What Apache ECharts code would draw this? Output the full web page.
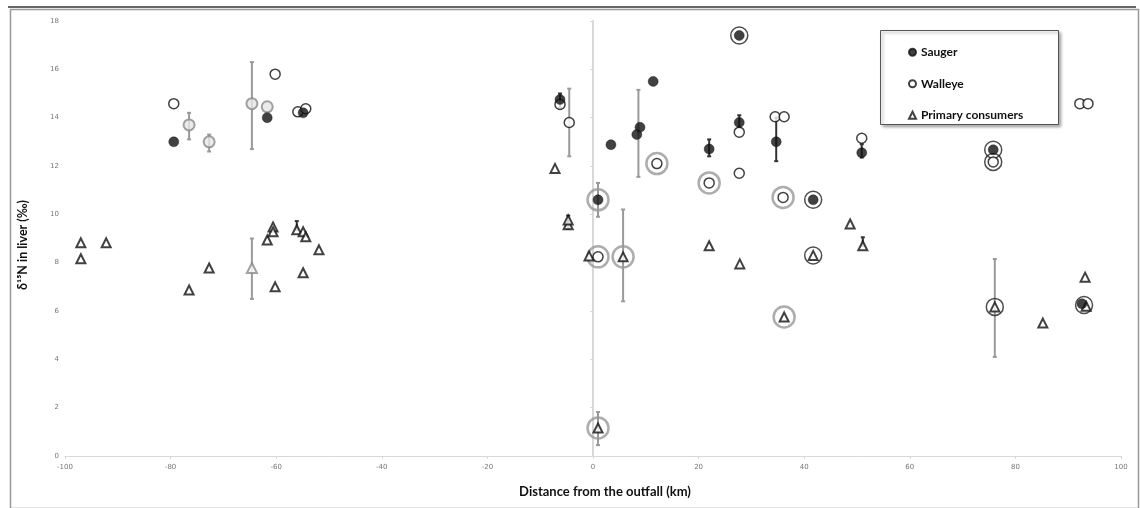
<!DOCTYPE html>
<html>
<head>
<meta charset="utf-8">
<script src="https://cdn.jsdelivr.net/npm/echarts@6/dist/echarts.min.js"></script>
<style>
  html, body { margin: 0; padding: 0; background: #fff; }
  #main { width: 1140px; height: 508px; }
</style>
</head>
<body>
<div id="main"></div>
<script>
// tick labels
const xTicks = [-100, -80, -60, -40, -20, 0, 20, 40, 60, 80, 100];
const yTicks = [0, 2, 4, 6, 8, 10, 12, 14, 16, 18];

// filled circles
const sauger = [
  [-79.4, 13.0], [-61.7, 14.0], [-54.9, 14.2],
  [-6.25, 14.75], [0.95, 10.6], [3.4, 12.88], [8.3, 13.3], [8.9, 13.6],
  [11.4, 15.5], [22.0, 12.7], [27.7, 13.8], [27.7, 17.4], [34.7, 13.0],
  [41.7, 10.6], [50.9, 12.55], [75.8, 12.67], [92.6, 6.3]
];
// open circles
const walleye = [
  [-79.4, 14.58], [-60.2, 15.8], [-55.9, 14.24], [-54.4, 14.37],
  [-6.25, 14.55], [-4.5, 13.8], [0.95, 8.24], [12.1, 12.1], [22.0, 11.3],
  [27.7, 13.4], [27.7, 11.7], [34.5, 14.04], [36.2, 14.04], [36.0, 10.7],
  [50.9, 13.15], [75.8, 12.17], [92.2, 14.58], [93.75, 14.58]
];
// triangles
const primary = [
  [-97.0, 8.82], [-97.0, 8.16], [-92.2, 8.82], [-76.5, 6.87], [-72.7, 7.78],
  [-61.7, 8.94], [-60.6, 9.48], [-60.6, 9.28], [-60.2, 7.0], [-56.1, 9.36],
  [-54.9, 9.28], [-54.4, 9.07], [-54.9, 7.58], [-51.9, 8.53],
  [-7.2, 11.9], [-4.7, 9.57], [-4.7, 9.77], [-0.75, 8.28], [5.7, 8.24],
  [0.95, 1.16], [22.0, 8.7], [27.8, 7.95], [36.2, 5.75], [41.7, 8.3],
  [48.7, 9.6], [51.1, 8.7], [76.1, 6.17], [85.2, 5.5], [93.2, 7.4], [93.4, 6.2]
];
// grey mean markers (upstream)
const greyMeanCircle = [[-76.5, 13.7], [-72.7, 13.0], [-64.6, 14.58], [-61.7, 14.45]];
const greyMeanTriangle = [[-64.6, 7.78]];

// rings round some points
const greyRings = [
  [0.95, 10.6], [0.95, 8.24], [5.7, 8.24], [12.1, 12.1], [0.95, 1.16],
  [22.0, 11.3], [36.0, 10.7], [36.2, 5.75]
];
const blackRings = [
  [27.7, 17.4], [41.7, 10.6], [41.7, 8.3], [75.8, 12.67], [75.8, 12.17],
  [76.1, 6.17], [93.0, 6.25]
];

// error bars [x, low, high]
const greyErrors = [
  [-76.5, 13.1, 14.2], [-72.7, 12.6, 13.3], [-64.6, 12.7, 16.3], [-64.6, 6.5, 9.0],
  [-4.5, 12.4, 15.2], [0.95, 9.9, 11.3], [5.7, 6.4, 10.2], [8.6, 11.55, 15.15],
  [0.95, 0.45, 1.82], [76.1, 4.1, 8.15]
];
const blackErrors = [
  [-6.25, 14.4, 15.0], [-4.7, 9.4, 9.95], [-56.1, 9.36, 9.72], [22.0, 12.4, 13.1],
  [27.7, 13.6, 14.1], [34.7, 12.2, 14.0], [50.9, 12.35, 12.9], [51.1, 8.7, 9.05]
];

const chart = echarts.init(document.getElementById('main'));

function errRender(color) {
  return function (params, api) {
    const top = api.coord([api.value(0), api.value(2)]);
    const bot = api.coord([api.value(0), api.value(1)]);
    const style = { stroke: color, lineWidth: 2 };
    return {
      type: 'group',
      children: [
        { type: 'line', shape: { x1: top[0], y1: top[1], x2: bot[0], y2: bot[1] }, style: style },
        { type: 'line', shape: { x1: top[0] - 2, y1: top[1], x2: top[0] + 2, y2: top[1] }, style: style },
        { type: 'line', shape: { x1: bot[0] - 2, y1: bot[1], x2: bot[0] + 2, y2: bot[1] }, style: style }
      ]
    };
  };
}

const tickFont = { fontSize: 7, color: '#777', fontFamily: 'DejaVu Sans' };

const option = {
  animation: false,
  backgroundColor: '#fff',
  grid: { left: 65, right: 19, top: 21, bottom: 52 },
  xAxis: {
    type: 'value', min: -100, max: 100, interval: 20,
    axisLine: { lineStyle: { color: '#d8d8d8', width: 1 } },
    axisTick: { show: true, length: 3, lineStyle: { color: '#d8d8d8' } },
    splitLine: { show: false },
    axisLabel: Object.assign({ margin: 8, formatter: v => xTicks.includes(v) ? String(v) : '' }, tickFont)
  },
  yAxis: {
    type: 'value', min: 0, max: 18, interval: 2,
    axisLine: { show: true, onZero: true, lineStyle: { color: '#d8d8d8', width: 2 } },
    axisTick: { show: true, length: 3, lineStyle: { color: '#d8d8d8' } },
    splitLine: { show: false },
    axisLabel: Object.assign({ margin: 6, formatter: v => yTicks.includes(v) ? String(v) : '' }, tickFont)
  },
  legend: {
    orient: 'vertical', left: 903, top: 41, itemGap: 19,
    itemWidth: 7, itemHeight: 7,
    data: ['Sauger', 'Walleye', 'Primary consumers'],
    textStyle: { fontFamily: 'Lato', fontWeight: 'bold', fontSize: 12, color: '#111', lineHeight: 12.5 }
  },
  graphic: [
    { type: 'rect', left: 8, top: 7, shape: { width: 1128, height: 499 },
      style: { fill: 'none', stroke: '#999', lineWidth: 1.5 }, z: -10 },
    { type: 'line', shape: { x1: 8, y1: 7, x2: 1136, y2: 7 }, style: { stroke: '#666', lineWidth: 2 }, z: -9 },
    { type: 'rect', left: 880, top: 30, shape: { width: 178, height: 94 },
      style: { fill: '#fff', stroke: '#555', lineWidth: 1, shadowBlur: 3, shadowOffsetX: 2, shadowOffsetY: 2, shadowColor: 'rgba(0,0,0,0.35)' }, z: 0 },
    { type: 'text', x: 605, y: 492, style: { text: 'Distance from the outfall (km)', fontFamily: 'Lato', fontWeight: 'bold', fontSize: 13, fill: '#111', align: 'center', verticalAlign: 'middle' } },
    { type: 'text', x: 23, y: 245, rotation: Math.PI / 2, style: { text: 'δ¹⁵N in liver (‰)', fontFamily: 'Lato', fontWeight: 'bold', fontSize: 12.5, fill: '#111', align: 'center', verticalAlign: 'middle' } }
  ],
  series: [
    { type: 'custom', name: 'greyErr', renderItem: errRender('#9a9a9a'), data: greyErrors, z: 1, silent: true },
    { type: 'custom', name: 'blackErr', renderItem: errRender('#333'), data: blackErrors, z: 1, silent: true },
    { type: 'scatter', name: 'greyRing', data: greyRings, symbol: 'circle', symbolSize: 21,
      itemStyle: { color: 'rgba(255,255,255,0)', borderColor: '#999', borderWidth: 2.5 }, z: 2 },
    { type: 'scatter', name: 'blackRing', data: blackRings, symbol: 'circle', symbolSize: 17,
      itemStyle: { color: 'rgba(255,255,255,0)', borderColor: '#222', borderWidth: 1.5 }, z: 2 },
    { type: 'scatter', name: 'greyMean', data: greyMeanCircle, symbol: 'circle', symbolSize: 11,
      itemStyle: { color: '#e6e6e6', borderColor: '#8a8a8a', borderWidth: 2 }, z: 3 },
    { type: 'scatter', name: 'greyMeanTri', data: greyMeanTriangle, symbol: 'triangle', symbolSize: 10,
      itemStyle: { color: '#fff', borderColor: '#8a8a8a', borderWidth: 2 }, z: 3 },
    { type: 'scatter', name: 'Primary consumers', data: primary, symbol: 'triangle', symbolSize: 9,
      itemStyle: { color: '#fff', borderColor: '#111', borderWidth: 2 }, z: 4 },
    { type: 'scatter', name: 'Walleye', data: walleye, symbol: 'circle', symbolSize: 10,
      itemStyle: { color: '#fff', borderColor: '#111', borderWidth: 1.5 }, z: 4 },
    { type: 'scatter', name: 'Sauger', data: sauger, symbol: 'circle', symbolSize: 10,
      itemStyle: { color: '#111', borderColor: '#111', borderWidth: 0.5 }, z: 5 }
  ]
};
chart.setOption(option);
</script>
</body>
</html>
